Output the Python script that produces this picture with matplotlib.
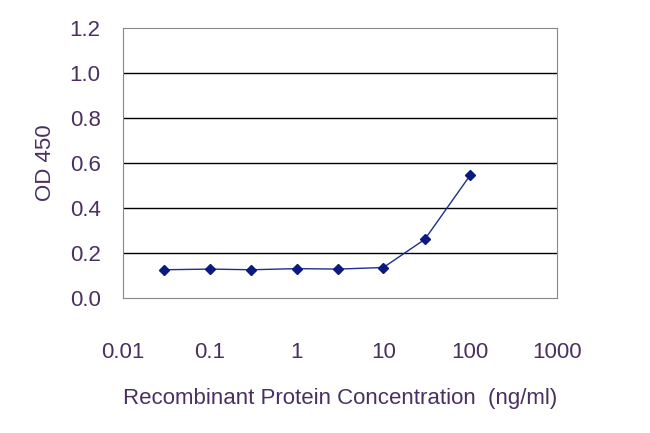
import matplotlib
matplotlib.use("Agg")
import matplotlib.pyplot as plt

conc = [0.03, 0.1, 0.3, 1, 3, 10, 30, 100]
od = [0.125, 0.128, 0.125, 0.13, 0.128, 0.135, 0.26, 0.545]
xticks = [0.01, 0.1, 1, 10, 100, 1000]
xlabels = ["0.01", "0.1", "1", "10", "100", "1000"]
yticks = [0.0, 0.2, 0.4, 0.6, 0.8, 1.0, 1.2]

plt.rcParams["font.family"] = ["Liberation Sans", "DejaVu Sans"]
tc = "#4a3060"
fig = plt.figure(figsize=(6.5, 4.33), dpi=100)
ax = fig.add_axes([0.189, 0.312, 0.668, 0.624])
ax.set_xscale("log")
ax.set_xlim(0.01, 1000)
ax.set_ylim(0, 1.2)
for y in yticks[1:-1]:
    ax.axhline(y, color="black", lw=1)
ax.plot(conc, od, color="#1f2f8f", lw=1, marker="D", ms=5, mfc="#0a1a80", mec="#0a1a80")
ax.set_xticks(xticks)
ax.set_xticklabels(xlabels)
ax.minorticks_off()
ax.set_yticks(yticks)
ax.set_yticklabels([f"{v:.1f}" for v in yticks])
ax.tick_params(length=0, labelsize=16, colors=tc)
ax.tick_params(axis="y", pad=16)
ax.tick_params(axis="x", pad=32)
for s in ax.spines.values():
    s.set_color("#888888")
ax.set_ylabel("OD 450", fontsize=16, color=tc, labelpad=10)
ax.set_xlabel("Recombinant Protein Concentration  (ng/ml)", fontsize=16, color=tc, labelpad=18)
fig.savefig("out.png", dpi=100)
